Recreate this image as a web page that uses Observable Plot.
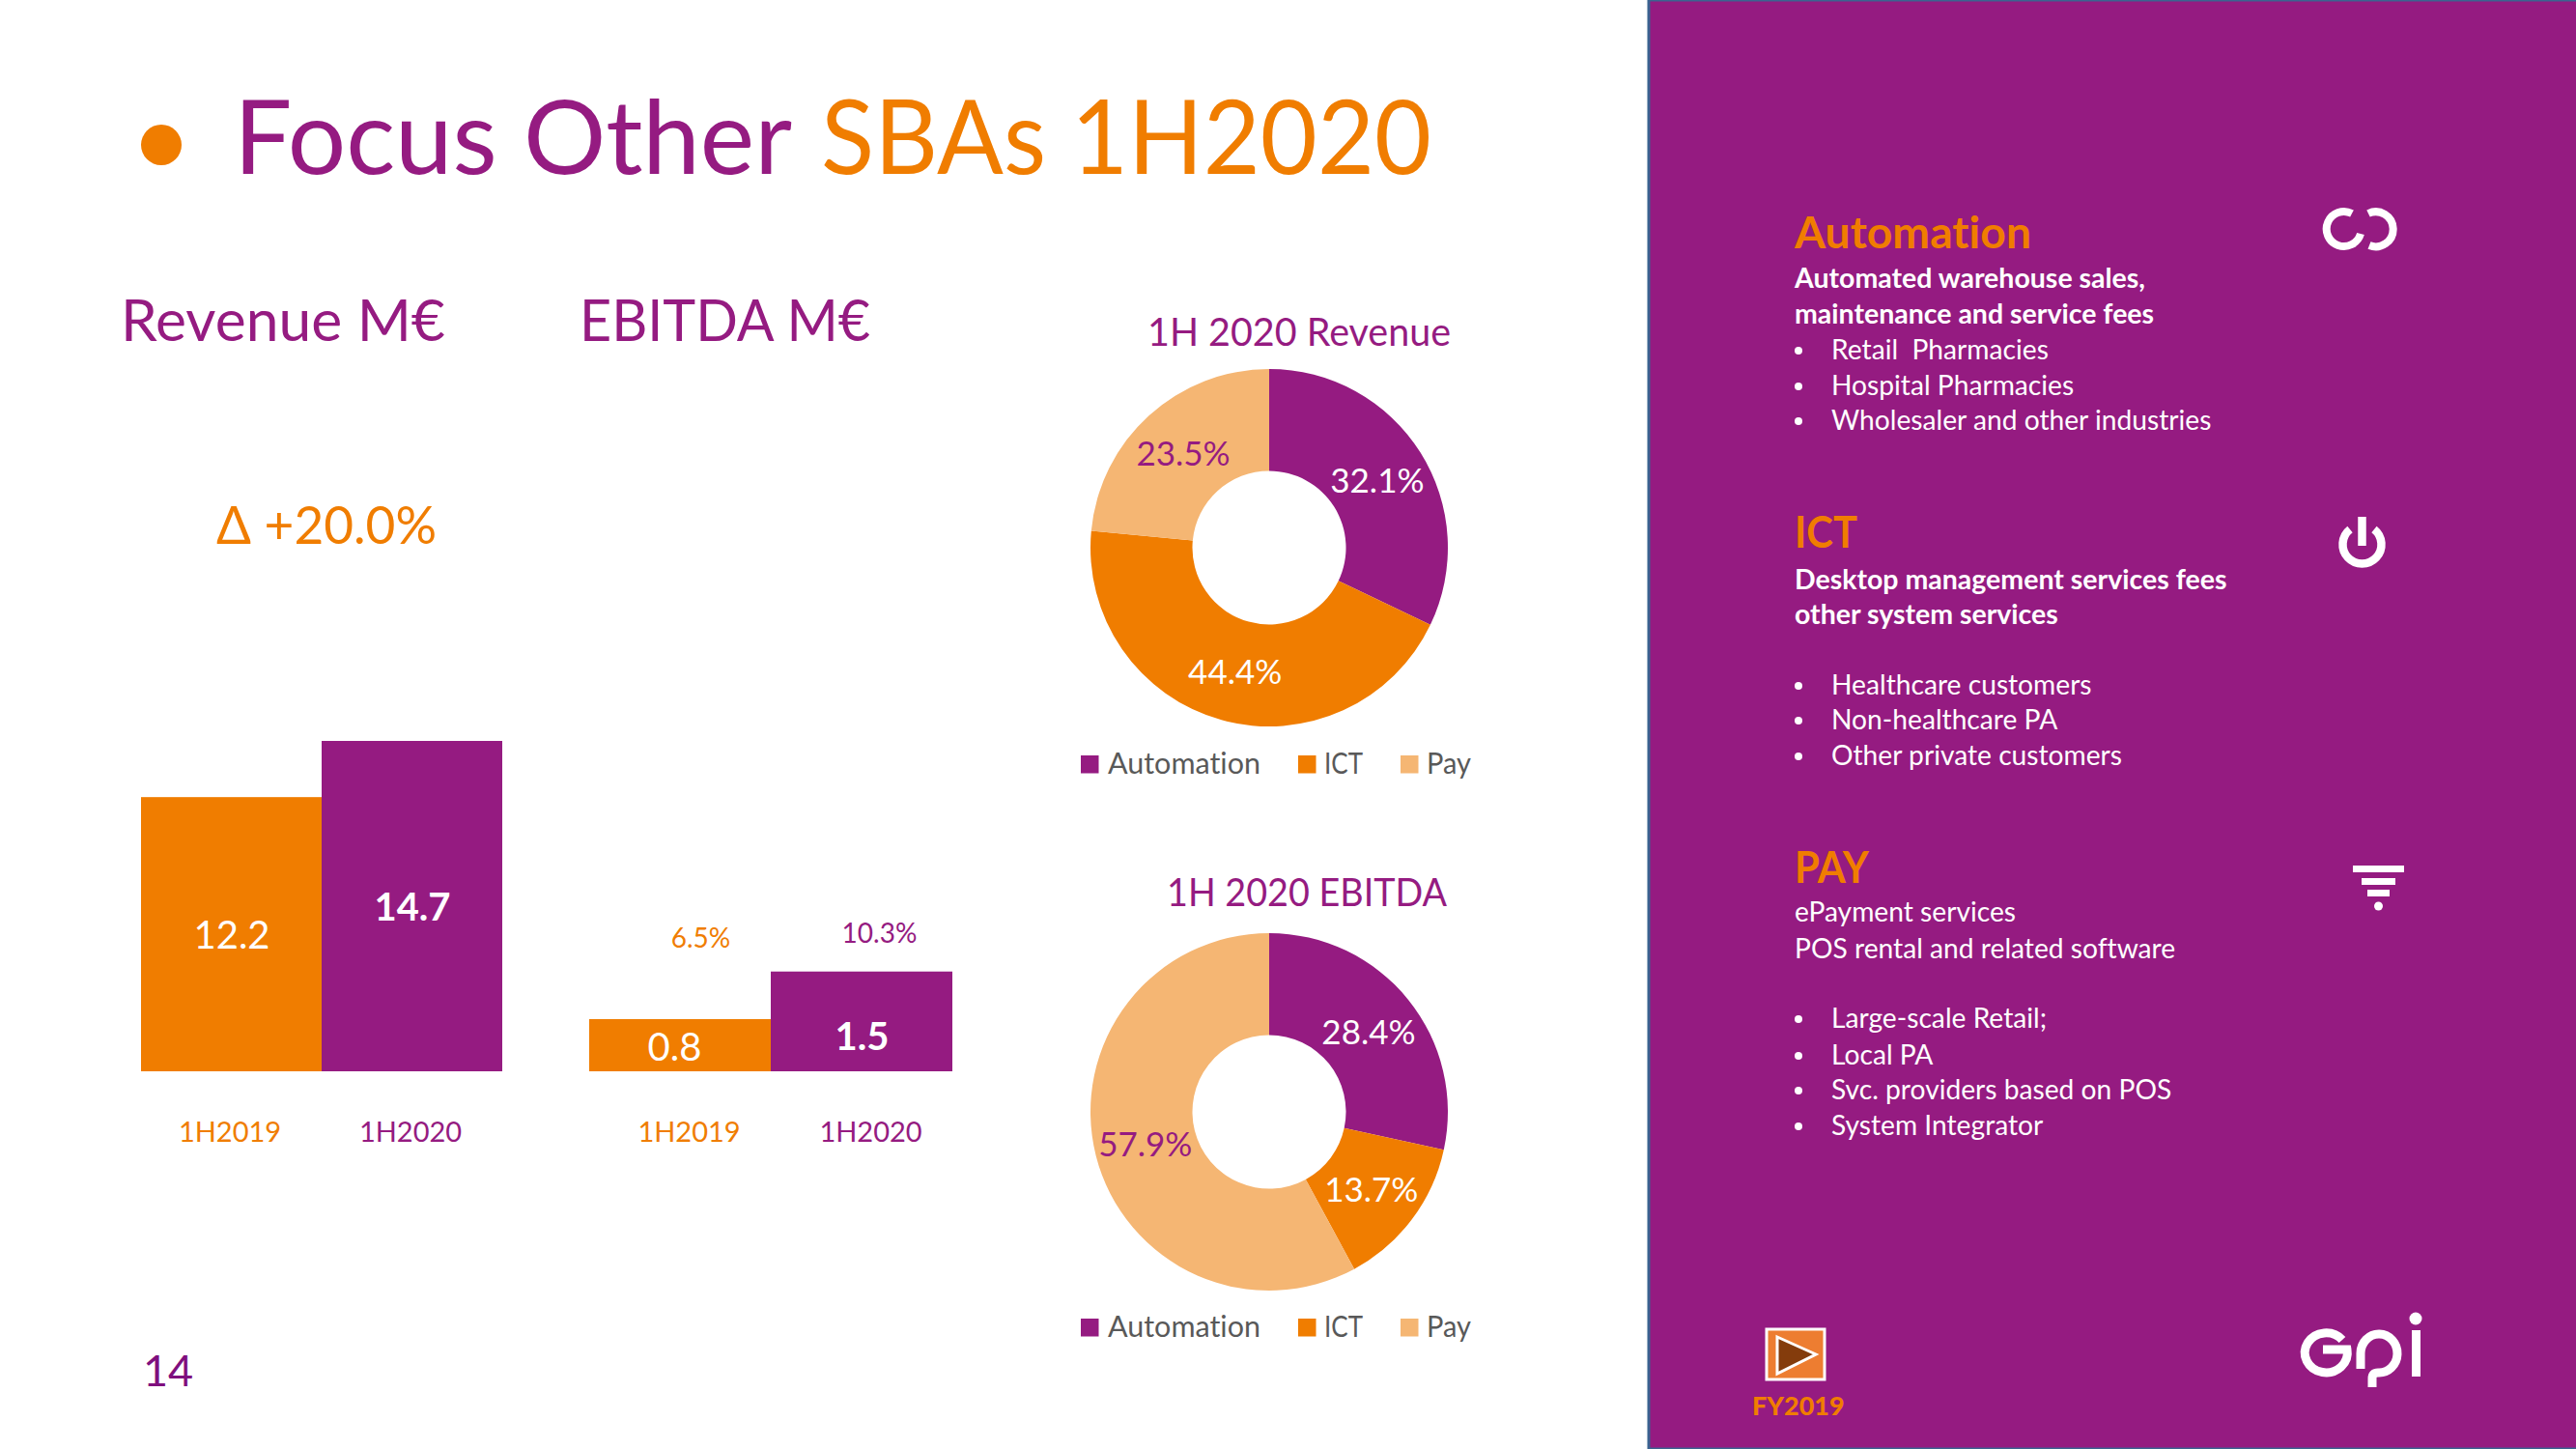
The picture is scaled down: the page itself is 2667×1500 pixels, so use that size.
<!DOCTYPE html>
<html>
<head>
<meta charset="utf-8">
<script src="https://cdn.jsdelivr.net/npm/d3@7"></script>
<script src="https://cdn.jsdelivr.net/npm/@observablehq/plot@0.6"></script>
<style>
html,body{margin:0;padding:0;background:#fff;width:2667px;height:1500px;overflow:hidden}
svg{position:absolute;font-variant-ligatures:none}
</style>
</head>
<body>
<script>
// ---- data ----
const periods = ["1H2019", "1H2020"];
const revenue = [12.2, 14.7];
const ebitda = [0.79, 1.51];
const ebitdaLabels = ["0.8", "1.5"];
const margins = ["6.5%", "10.3%"];
const segments = ["Automation", "ICT", "Pay"];
const revenueShare = [32.1, 44.4, 23.5];
const ebitdaShare = [28.4, 13.7, 57.9];

const purple = "#951B81", orange = "#F07D00", light = "#F5B673", grey = "#595959";
const font = "Lato, Carlito, sans-serif";

// ---- page texts ----
const panelText = [
  ["h", 1858, 257, "Automation", 245],
  ["b", 1858, 298, "Automated warehouse sales,"],
  ["b", 1858, 335, "maintenance and service fees"],
  ["l", 1896, 372, "Retail  Pharmacies"],
  ["l", 1896, 409, "Hospital Pharmacies"],
  ["l", 1896, 445, "Wholesaler and other industries"],
  ["h", 1858, 567, "ICT", 65],
  ["b", 1858, 610, "Desktop management services fees"],
  ["b", 1858, 646, "other system services"],
  ["l", 1896, 719, "Healthcare customers"],
  ["l", 1896, 755, "Non-healthcare PA"],
  ["l", 1896, 792, "Other private customers"],
  ["h", 1858, 914, "PAY", 77],
  ["n", 1858, 954, "ePayment services"],
  ["n", 1858, 992, "POS rental and related software"],
  ["l", 1896, 1064, "Large-scale Retail;"],
  ["l", 1896, 1102, "Local PA"],
  ["l", 1896, 1138, "Svc. providers based on POS"],
  ["l", 1896, 1175, "System Integrator"]
];

// ---- page sheet (background, titles, icons) ----
const sheet = d3.select("body").append("svg")
  .attr("width", 2667).attr("height", 1500)
  .style("left", 0).style("top", 0).style("font-family", font);

function put(x, y, s, size, fill, weight = 400, len = null) {
  const t = sheet.append("text").attr("x", x).attr("y", y).attr("font-size", size)
    .attr("fill", fill).attr("font-weight", weight)
    .style("white-space", "pre").text(s);
  if (len) t.attr("textLength", len).attr("lengthAdjust", "spacingAndGlyphs");
  return t;
}
sheet.append("rect").attr("x", 1707).attr("y", 0).attr("width", 962).attr("height", 1500)
  .attr("fill", purple).attr("stroke", "#3B6390").attr("stroke-width", 3);

sheet.append("ellipse").attr("cx", 167).attr("cy", 150).attr("rx", 21).attr("ry", 21).attr("fill", orange);
put(242, 180, "Focus Other", 107, purple, 400, 578);
put(850, 180, "SBAs 1H2020", 107, orange, 400, 632);

put(125, 353, "Revenue M€", 60, purple, 400, 336);
put(600, 353, "EBITDA M€", 60, purple, 400, 301);
put(224, 563, "Δ +20.0%", 54, orange, 400, 228);
put(148, 1435, "14", 45, "#7F0F7E");
put(1188, 358, "1H 2020 Revenue", 40, purple, 400, 314);
put(1208, 938, "1H 2020 EBITDA", 40, purple, 400, 290);

for (const [kind, x, y, s, len] of panelText) {
  if (kind === "h") put(x, y, s, 46, orange, 700, len);
  else if (kind === "b") put(x, y, s, 28.5, "#fff", 700);
  else put(x, y, s, 28.2, "#fff");
  if (kind === "l") sheet.append("circle").attr("cx", 1862).attr("cy", y - 9).attr("r", 4).attr("fill", "#fff");
}
put(1814, 1465, "FY2019", 27, orange, 900);

// play button
sheet.append("rect").attr("x", 1829).attr("y", 1376).attr("width", 60).attr("height", 52)
  .attr("fill", "#ED7D31").attr("stroke", "#fff").attr("stroke-width", 3);
sheet.append("path").attr("d", "M1840,1384 L1880,1402 L1840,1422 Z")
  .attr("fill", "#843C0C").attr("stroke", "#fff").attr("stroke-width", 3);

// icons
const stroke = (d, w = 7) => sheet.append("path").attr("d", d).attr("fill", "none")
  .attr("stroke", "#fff").attr("stroke-width", w).attr("stroke-linecap", "butt");
stroke("M2435,221 A18 18 0 1 0 2444,242", 8);
stroke("M2452,221 A18 18 0 1 1 2453,254", 8);
stroke("M2433,548 A20 20 0 1 0 2458,548", 8.5);
stroke("M2445.5,535 V565", 8.5);
[[2436, 896, 53, 7], [2445, 909, 35, 7], [2451, 921, 23, 7]].forEach(([x, y, w, h]) =>
  sheet.append("rect").attr("x", x).attr("y", y).attr("width", w).attr("height", h).attr("fill", "#fff"));
sheet.append("circle").attr("cx", 2462.5).attr("cy", 938).attr("r", 4.5).attr("fill", "#fff");

// GPI logo
stroke("M2425,1387 A22 20.5 0 1 0 2430,1397 H2405", 9);
stroke("M2444,1417 V1401 A19 20 0 1 1 2462,1421 Q2456,1421 2456,1427 V1436", 9);
sheet.append("rect").attr("x", 2497).attr("y", 1377).attr("width", 9).attr("height", 48).attr("fill", "#fff");
sheet.append("circle").attr("cx", 2501).attr("cy", 1365).attr("r", 6.5).attr("fill", "#fff");

// ---- charts ----
function place(svg, left, top) {
  svg.style.left = left + "px";
  svg.style.top = top + "px";
  document.body.appendChild(svg);
}
const periodColor = {domain: periods, range: [orange, purple]};
const tickColor = d => d === periods[0] ? orange : purple;

function barChart(values, labels, width, yMax, tickDx) {
  const rows = periods.map((period, i) => ({period, value: values[i], label: labels[i]}));
  const marks = [
    Plot.barY(rows, {x: "period", y: "value", fill: "period"}),
    Plot.axisX({tickSize: 0, tickPadding: 52, fontSize: 29, fill: tickColor, dx: tickDx, label: null})
  ];
  return {rows, marks, options: {
    width, height: 500, marginTop: 0, marginBottom: 91, marginLeft: 0, marginRight: 0,
    style: {background: "transparent", fontFamily: font, overflow: "visible"},
    x: {domain: periods, padding: 0, label: null},
    y: {domain: [0, yMax], axis: null},
    color: periodColor
  }};
}

// Revenue bars
{
  const c = barChart(revenue, revenue.map(d => d.toFixed(1)), 375, 17.58, -2);
  c.marks.push(
    Plot.text(c.rows.slice(0, 1), {x: "period", y: d => d.value / 2, text: "label", fill: "#fff", fontSize: 40, dy: 1.5}),
    Plot.text(c.rows.slice(1), {x: "period", y: d => d.value / 2, text: "label", fill: "#fff", fontSize: 40, fontWeight: 700, dy: 1.5})
  );
  place(Plot.plot({...c.options, marks: c.marks}), 145, 700);
}
// EBITDA bars
{
  const c = barChart(ebitda, ebitdaLabels, 376, 5.98, 9);
  c.marks.push(
    Plot.text(c.rows.slice(0, 1), {x: "period", y: d => d.value / 2, text: "label", fill: "#fff", fontSize: 40, dx: -6, dy: 3}),
    Plot.text(c.rows.slice(1), {x: "period", y: d => d.value / 2, text: "label", fill: "#fff", fontSize: 40, fontWeight: 700, dy: 16}),
    Plot.text(c.rows.slice(0, 1), {x: "period", y: "value", text: () => margins[0], fill: orange, fontSize: 28, dx: 21, dy: -83}),
    Plot.text(c.rows.slice(1), {x: "period", y: "value", text: () => margins[1], fill: purple, fontSize: 28, dx: 18, dy: -39})
  );
  place(Plot.plot({...c.options, marks: c.marks}), 610, 700);
}

// Doughnuts: a stacked bar whose x scale runs over the angle
function donut(shares, top, legendY) {
  const rows = segments.map((segment, i) => ({segment, share: shares[i]}));
  const size = 400, outer = 185, inner = 79.5;
  const arc = d3.arc().innerRadius(inner).outerRadius(outer);
  const svg = Plot.plot({
    width: size, height: size, margin: 0,
    style: {background: "transparent", fontFamily: font},
    x: {domain: [0, 100], range: [0, 2 * Math.PI], axis: null},
    color: {domain: segments, range: [purple, orange, light]},
    marks: [
      Plot.barX(rows, {
        x: "share", fill: "segment",
        render(index, scales, values) {
          const g = d3.create("svg:g").attr("transform", `translate(${size / 2},${size / 2})`);
          for (const i of index) {
            const a = {startAngle: values.x1[i], endAngle: values.x2[i]};
            g.append("path").attr("d", arc(a)).attr("fill", values.fill[i]);
            const [cx, cy] = arc.centroid(a);
            g.append("text").attr("x", cx).attr("y", cy).attr("dy", "0.38em")
              .attr("text-anchor", "middle").attr("font-size", 35)
              .attr("fill", rows[i].segment === "Pay" ? purple : "#fff")
              .text(rows[i].share.toFixed(1) + "%");
          }
          return g.node();
        }
      })
    ]
  });
  place(svg, 1114, top);
  // legend
  const entries = [[1119, 1147, 158], [1344, 1371, 40], [1450, 1477, 46]];
  segments.forEach((s, i) => {
    sheet.append("rect").attr("x", entries[i][0]).attr("y", legendY - 18).attr("width", 18.5).attr("height", 18.5)
      .attr("fill", [purple, orange, light][i]);
    put(entries[i][1], legendY + 1, s, 30, grey, 400, entries[i][2]);
  });
}
donut(revenueShare, 367, 800);
donut(ebitdaShare, 950.5, 1383);
</script>
</body>
</html>
